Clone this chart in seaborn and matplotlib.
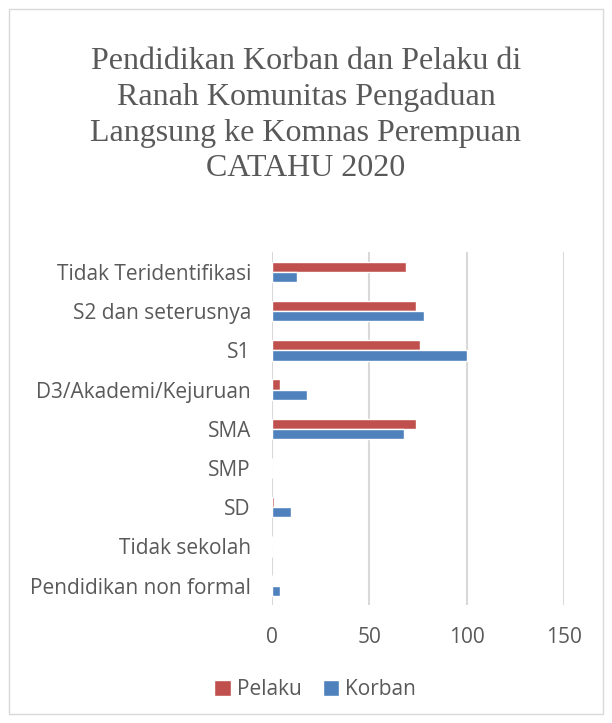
import matplotlib
matplotlib.use("Agg")
import matplotlib.pyplot as plt
import seaborn as sns
import pandas as pd
from matplotlib.patches import Rectangle

# Data
categories = ["Tidak Teridentifikasi", "S2 dan seterusnya", "S1", "D3/Akademi/Kejuruan",
              "SMA", "SMP", "SD", "Tidak sekolah", "Pendidikan non formal"]
pelaku = [69, 74, 76, 4, 74, 0, 1, 0, 0]
korban = [13, 78, 100, 18, 68, 0, 10, 0, 4]

df = pd.DataFrame({
    "kategori": categories * 2,
    "jumlah": pelaku + korban,
    "seri": ["Pelaku"] * len(categories) + ["Korban"] * len(categories),
})

sns.set_style("white")
plt.rcParams['font.family'] = ['Open Sans', 'DejaVu Sans']

fig = plt.figure(figsize=(6.12, 7.23), dpi=100)
ax = fig.add_axes([0.444, 0.163, 0.478, 0.488])

ax = sns.barplot(data=df, y="kategori", x="jumlah", hue="seri", order=categories,
                 hue_order=["Pelaku", "Korban"], palette=["#C0504D", "#4F81BD"],
                 width=0.52, orient="h", saturation=1, ax=ax, legend=True)

ax.set_xlim(0, 150)
ax.set_xticks([0, 50, 100, 150])
ax.grid(axis="x", color="#d9d9d9", linewidth=1.5)
ax.set_axisbelow(True)
for s in ax.spines.values():
    s.set_visible(False)
ax.set_xlabel("")
ax.set_ylabel("")
ax.tick_params(axis="x", length=0, pad=16, labelsize=15, labelcolor="#595959")
ax.tick_params(axis="y", length=0, pad=15, labelsize=15, labelcolor="#595959")

# legend at the bottom
ax.legend(loc="center", bbox_to_anchor=(0.515, 0.046), bbox_transform=fig.transFigure,
          ncol=2, frameon=False, fontsize=15, handlelength=0.8, handleheight=0.8,
          handletextpad=0.3, columnspacing=1.0, labelcolor="#595959")

fig.text(0.5, 0.841, "Pendidikan Korban dan Pelaku di\nRanah Komunitas Pengaduan\n"
         "Langsung ke Komnas Perempuan\nCATAHU 2020",
         ha="center", va="center", fontsize=23, color="#595959",
         family=["Liberation Serif", "DejaVu Serif"], linespacing=1.3)

# chart frame
fig.patches.append(Rectangle((9 / 612, 9 / 723), 594 / 612, 705 / 723, transform=fig.transFigure,
                             fill=False, edgecolor="#d9d9d9", linewidth=1))

plt.savefig("out.png", dpi=100)
